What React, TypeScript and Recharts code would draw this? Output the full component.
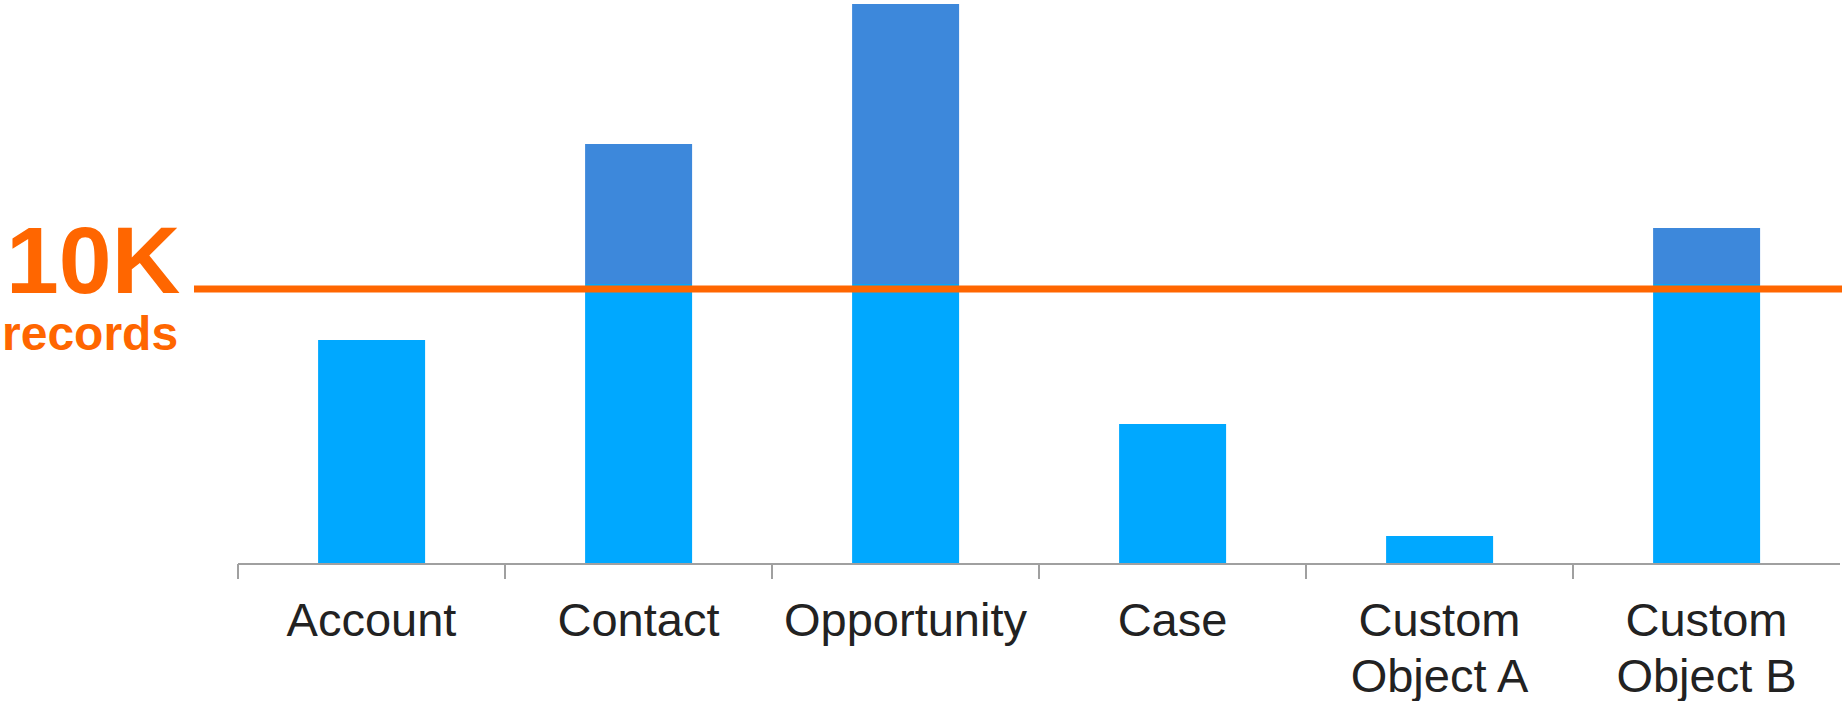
import React from 'react';
import { BarChart, Bar, XAxis, YAxis, ReferenceLine } from 'recharts';

const categories = ['Account', 'Contact', 'Opportunity', 'Case', 'Custom Object A', 'Custom Object B'];
const underLimit = [8000, 10000, 10000, 5000, 1000, 10000];
const overLimit = [0, 5000, 10000, 0, 0, 2000];
const tickLabelLines = [['Account'], ['Contact'], ['Opportunity'], ['Case'], ['Custom', 'Object A'], ['Custom', 'Object B']];
const limitValue = 10000;
const limitLabel = '10K';
const limitSubLabel = 'records';

const data = categories.map((c, i) => ({ name: c, under: underLimit[i], over: overLimit[i] }));

const FONT = '"Liberation Sans", Arial, Helvetica, sans-serif';
const ORANGE = '#FF6600';
const AXIS_GRAY = '#A0A0A0';

const CategoryTick = (props: any) => {
  const { x, y, payload } = props;
  const idx = categories.indexOf(payload.value);
  const lines = idx >= 0 ? tickLabelLines[idx] : [String(payload.value)];
  const half = typeof payload.offset === 'number' ? payload.offset : 0;
  return (
    <g>
      {half > 0 && (
        <line x1={x - half} y1={y} x2={x - half} y2={y + 15} stroke={AXIS_GRAY} strokeWidth={2} />
      )}
      <text x={x} y={y} textAnchor="middle" fill="#222222" fontSize={47} fontFamily={FONT}>
        {lines.map((l, i) => (
          <tspan key={i} x={x} dy={i === 0 ? 72 : 56}>
            {l}
          </tspan>
        ))}
      </text>
    </g>
  );
};

const LimitShape = (props: any) => {
  const { x1, y1, x2 } = props;
  const ly = y1 + 5;
  return (
    <g>
      <line x1={x1 - 44} y1={ly} x2={x2 + 2} y2={ly} stroke={ORANGE} strokeWidth={7} />
      <text x={6} y={ly + 4} fill={ORANGE} fontSize={95} fontWeight="bold" fontFamily={FONT}>
        {limitLabel}
      </text>
      <text x={2} y={ly + 61} fill={ORANGE} fontSize={48} fontWeight="bold" fontFamily={FONT}>
        {limitSubLabel}
      </text>
    </g>
  );
};

export default function App() {
  return (
    <div style={{ position: 'absolute', left: 0, top: 0, width: 1842, height: 701, background: '#ffffff' }}>
      <BarChart
        width={1842}
        height={701}
        data={data}
        margin={{ top: 4, right: 2, bottom: 136, left: 238 }}
        barCategoryGap="30%"
      >
        <XAxis
          dataKey="name"
          type="category"
          height={1}
          axisLine={{ stroke: AXIS_GRAY, strokeWidth: 2 }}
          tickLine={false}
          tickSize={0}
          tickMargin={0}
          interval={0}
          tick={CategoryTick}
        />
        <YAxis hide domain={[0, 20000]} allowDataOverflow />
        <Bar dataKey="under" stackId="a" fill="#00A8FF" isAnimationActive={false} />
        <Bar dataKey="over" stackId="a" fill="#3D88DB" isAnimationActive={false} />
        <ReferenceLine y={limitValue} shape={LimitShape} ifOverflow="visible" />
      </BarChart>
    </div>
  );
}
